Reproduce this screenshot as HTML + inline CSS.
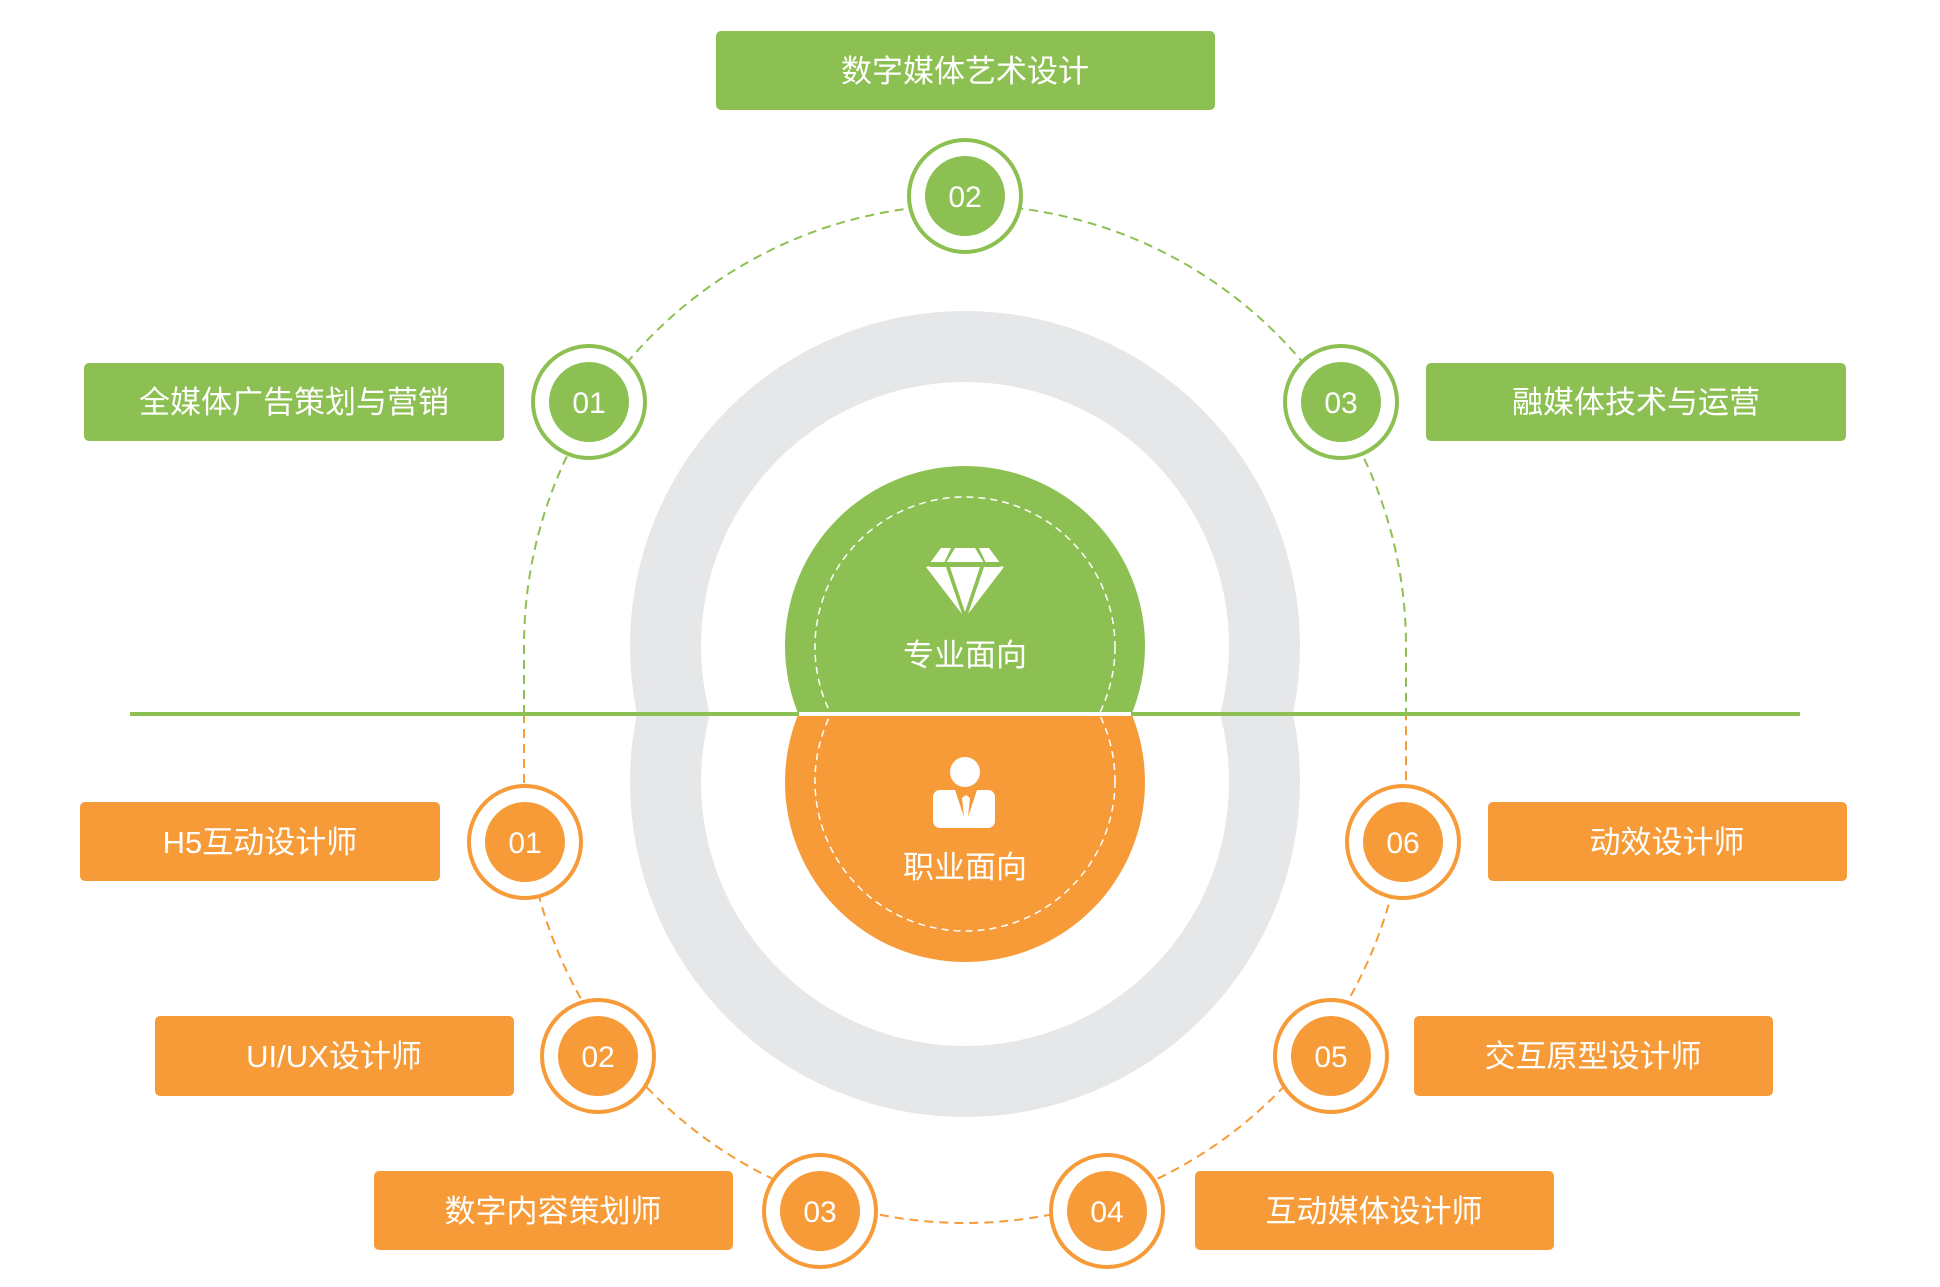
<!DOCTYPE html>
<html><head><meta charset="utf-8"><style>
html,body{margin:0;padding:0;background:#fff;}
svg{display:block;}
text{font-family:"Liberation Sans","Noto Sans CJK SC",sans-serif;}
</style></head><body>
<svg width="1940" height="1287" viewBox="0 0 1940 1287" xmlns="http://www.w3.org/2000/svg">
<defs>
<clipPath id="top"><rect x="0" y="0" width="1940" height="712"/></clipPath>
<clipPath id="bot"><rect x="0" y="716" width="1940" height="600"/></clipPath>
</defs>
<circle cx="965" cy="646" r="335" fill="#e6e7e8"/>
<circle cx="965" cy="782" r="335" fill="#e6e7e8"/>
<circle cx="965" cy="646" r="264" fill="#fff"/>
<circle cx="965" cy="782" r="264" fill="#fff"/>
<path d="M524 714 L524 646 A441 441 0 0 1 1406 646 L1406 714" fill="none" stroke="#8dc052" stroke-width="2" stroke-dasharray="9 6"/>
<path d="M524 714 L524 782 A441 441 0 0 0 1406 782 L1406 714" fill="none" stroke="#f79b38" stroke-width="2" stroke-dasharray="9 6"/>
<rect x="130" y="712" width="1670" height="4" fill="#8dc052"/>
<circle cx="965" cy="646" r="180" fill="#8dc052" clip-path="url(#top)"/>
<circle cx="965" cy="782" r="180" fill="#f79b38" clip-path="url(#bot)"/>
<rect x="799" y="712" width="332" height="4" fill="#fff"/>
<circle cx="965" cy="647" r="150" fill="none" stroke="#fff" stroke-width="1.5" stroke-dasharray="7 5" clip-path="url(#top)"/>
<circle cx="965" cy="781" r="150" fill="none" stroke="#fff" stroke-width="1.5" stroke-dasharray="7 5" clip-path="url(#bot)"/>
<g fill="#fff">
<polygon points="927,567 941,548 951,548 944,563"/>
<polygon points="955,548 975,548 984,563 946,563"/>
<polygon points="979,548 989,548 1003,567 986,563"/>
<rect x="926" y="562" width="78" height="4" fill="#8dc052"/>
<polygon points="926,567 946,567 962,614"/>
<polygon points="950,567 980,567 965,612"/>
<polygon points="984,567 1004,567 968,614"/>
</g>
<text x="965" y="666" text-anchor="middle" font-size="31" fill="#fff">专业面向</text>
<g fill="#fff">
<circle cx="965" cy="772" r="15"/>
<path d="M942 790 h13 l9 27 l-2 -19 l4 -3 l4 3 l-2 19 l9 -27 h11 a7 7 0 0 1 7 7 v24 a7 7 0 0 1 -7 7 h-48 a7 7 0 0 1 -7 -7 v-24 a7 7 0 0 1 7 -7z"/>
</g>
<text x="965" y="878" text-anchor="middle" font-size="31" fill="#fff">职业面向</text>
<g font-size="30" text-anchor="middle" fill="#fff">
<g><circle cx="965" cy="196" r="56" fill="#fff" stroke="#8dc052" stroke-width="4"/><circle cx="965" cy="196" r="40" fill="#8dc052"/><text x="965" y="207">02</text></g>
<g><circle cx="589" cy="402" r="56" fill="#fff" stroke="#8dc052" stroke-width="4"/><circle cx="589" cy="402" r="40" fill="#8dc052"/><text x="589" y="413">01</text></g>
<g><circle cx="1341" cy="402" r="56" fill="#fff" stroke="#8dc052" stroke-width="4"/><circle cx="1341" cy="402" r="40" fill="#8dc052"/><text x="1341" y="413">03</text></g>
<g><circle cx="525" cy="842" r="56" fill="#fff" stroke="#f79b38" stroke-width="4"/><circle cx="525" cy="842" r="40" fill="#f79b38"/><text x="525" y="853">01</text></g>
<g><circle cx="1403" cy="842" r="56" fill="#fff" stroke="#f79b38" stroke-width="4"/><circle cx="1403" cy="842" r="40" fill="#f79b38"/><text x="1403" y="853">06</text></g>
<g><circle cx="598" cy="1056" r="56" fill="#fff" stroke="#f79b38" stroke-width="4"/><circle cx="598" cy="1056" r="40" fill="#f79b38"/><text x="598" y="1067">02</text></g>
<g><circle cx="1331" cy="1056" r="56" fill="#fff" stroke="#f79b38" stroke-width="4"/><circle cx="1331" cy="1056" r="40" fill="#f79b38"/><text x="1331" y="1067">05</text></g>
<g><circle cx="820" cy="1211" r="56" fill="#fff" stroke="#f79b38" stroke-width="4"/><circle cx="820" cy="1211" r="40" fill="#f79b38"/><text x="820" y="1222">03</text></g>
<g><circle cx="1107" cy="1211" r="56" fill="#fff" stroke="#f79b38" stroke-width="4"/><circle cx="1107" cy="1211" r="40" fill="#f79b38"/><text x="1107" y="1222">04</text></g>
</g>
<g font-size="31" text-anchor="middle" fill="#fff">
<rect x="716" y="31" width="499" height="79" rx="5" fill="#8dc052"/><text x="965" y="82">数字媒体艺术设计</text>
<rect x="84" y="363" width="420" height="78" rx="5" fill="#8dc052"/><text x="294" y="413">全媒体广告策划与营销</text>
<rect x="1426" y="363" width="420" height="78" rx="5" fill="#8dc052"/><text x="1636" y="413">融媒体技术与运营</text>
<rect x="80" y="802" width="360" height="79" rx="5" fill="#f79b38"/><text x="260" y="853">H5互动设计师</text>
<rect x="155" y="1016" width="359" height="80" rx="5" fill="#f79b38"/><text x="334" y="1067">UI/UX设计师</text>
<rect x="374" y="1171" width="359" height="79" rx="5" fill="#f79b38"/><text x="553" y="1222">数字内容策划师</text>
<rect x="1488" y="802" width="359" height="79" rx="5" fill="#f79b38"/><text x="1667" y="853">动效设计师</text>
<rect x="1414" y="1016" width="359" height="80" rx="5" fill="#f79b38"/><text x="1593" y="1067">交互原型设计师</text>
<rect x="1195" y="1171" width="359" height="79" rx="5" fill="#f79b38"/><text x="1374" y="1222">互动媒体设计师</text>
</g>
</svg>
</body></html>
